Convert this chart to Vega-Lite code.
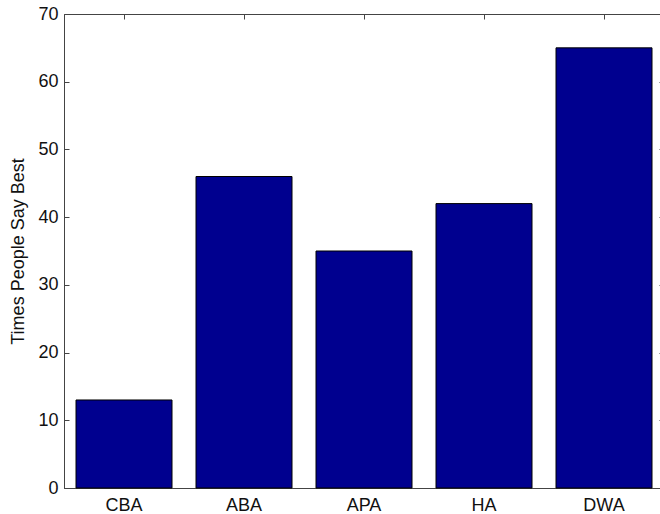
{
  "$schema": "https://vega.github.io/schema/vega-lite/v6.json",
  "autosize": {"type": "none"},
  "width": 600,
  "height": 474,
  "padding": {"left": 64, "top": 14, "right": 0, "bottom": 26},
  "background": "white",
  "config": {
    "view": {"stroke": "#444", "strokeWidth": 1},
    "font": "Liberation Sans",
    "axis": {
      "grid": false,
      "domainColor": "#444",
      "tickColor": "#444",
      "tickSize": -5,
      "tickWidth": 1,
      "labelFont": "Liberation Sans",
      "labelFontSize": 18,
      "labelColor": "#111",
      "titleFont": "Liberation Sans",
      "titleFontSize": 18,
      "titleFontWeight": "normal",
      "titleColor": "#111"
    }
  },
  "data": {"values": [
    {"method": "CBA", "count": 13},
    {"method": "ABA", "count": 46},
    {"method": "APA", "count": 35},
    {"method": "HA", "count": 42},
    {"method": "DWA", "count": 65}
  ]},
  "layer": [
    {
      "mark": {"type": "bar", "color": "#00008F", "stroke": "#000", "strokeWidth": 1},
      "encoding": {
        "x": {"field": "method", "type": "nominal", "sort": null,
              "scale": {"paddingInner": 0.2, "paddingOuter": 0.1},
              "axis": {"title": null, "labelAngle": 0, "labelPadding": 13}},
        "y": {"field": "count", "type": "quantitative",
              "scale": {"domain": [0, 70], "nice": false},
              "axis": {"title": "Times People Say Best", "values": [0,10,20,30,40,50,60,70], "labelPadding": 11, "titlePadding": 10}}
      }
    },
    {
      "mark": {"type": "bar", "opacity": 0},
      "encoding": {
        "x": {"field": "method", "type": "nominal", "sort": null,
              "axis": {"orient": "top", "title": null, "labels": false, "domain": false}},
        "y": {"field": "count", "type": "quantitative",
              "axis": {"orient": "right", "title": null, "labels": false, "domain": false, "values": [0,10,20,30,40,50,60,70]}}
      }
    }
  ],
  "resolve": {"axis": {"x": "independent", "y": "independent"}}
}
